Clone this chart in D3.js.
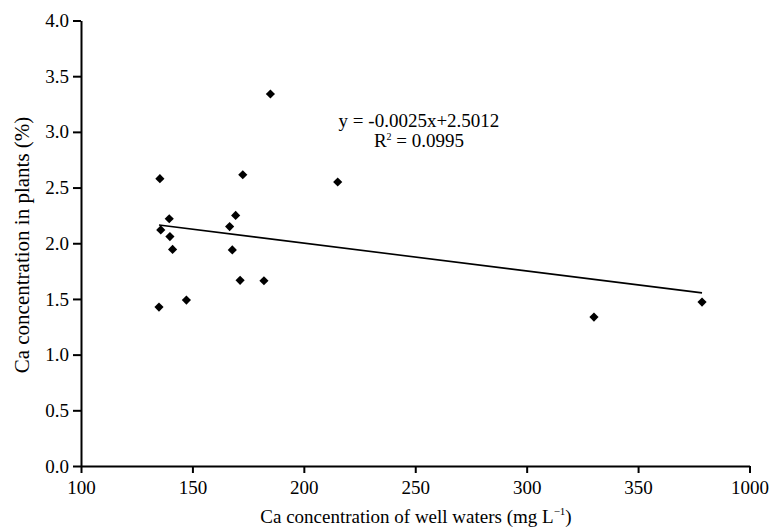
<!DOCTYPE html>
<html>
<head>
<meta charset="utf-8">
<script src="https://cdn.jsdelivr.net/npm/d3@7"></script>
<style>
  html, body { margin: 0; padding: 0; background: #fff; }
  svg { display: block; font-family: "Liberation Serif", "Times New Roman", serif; }
</style>
</head>
<body>
<svg id="chart" width="779" height="529"></svg>
<script>
// Ca in well waters (axis units) vs. Ca in plants (%)
const waterCa = [185.0, 135.4, 172.6, 215.2, 139.6, 169.4, 166.7, 135.8, 139.9, 141.1, 167.9, 171.4, 182.1, 147.3, 135.0, 330.2, 378.7];
const plantCa = [3.34, 2.58, 2.615, 2.55, 2.22, 2.25, 2.15, 2.12, 2.06, 1.945, 1.94, 1.667, 1.663, 1.49, 1.427, 1.337, 1.472];

const xTickValues = [100, 150, 200, 250, 300, 350, 400];
const xTickLabels = ["100", "150", "200", "250", "300", "350", "1000"];
const yTickValues = [0, 0.5, 1, 1.5, 2, 2.5, 3, 3.5, 4];

// linear trend fitted to the points
const slope = -0.0025, intercept = 2.5012, rSquared = 0.0995;

const svg = d3.select("#chart");

const x = d3.scaleLinear().domain([100, 400]).range([81, 749.5]);
const y = d3.scaleLinear().domain([0, 4]).range([466, 20.5]);

const fontSize = 19;

// x axis
const xAxis = svg.append("g")
  .attr("transform", `translate(0,${y(0)})`)
  .call(d3.axisBottom(x)
    .tickValues(xTickValues)
    .tickFormat((d, i) => xTickLabels[i])
    .tickSize(7)
    .tickSizeOuter(0)
    .tickPadding(8));

// y axis
const yAxis = svg.append("g")
  .attr("transform", `translate(${x(100)},0)`)
  .call(d3.axisLeft(y)
    .tickValues(yTickValues)
    .tickFormat(d3.format(".1f"))
    .tickSize(8)
    .tickSizeOuter(0)
    .tickPadding(4));

[xAxis, yAxis].forEach(g => {
  g.attr("font-family", null).attr("font-size", null);
  g.select(".domain").attr("stroke", "#000").attr("stroke-width", 2);
  g.selectAll(".tick line").attr("stroke", "#000").attr("stroke-width", 2);
  g.selectAll(".tick text")
    .attr("fill", "#000")
    .style("font-size", fontSize + "px");
});

// trend line across the observed range
const xExtent = d3.extent(waterCa);
svg.append("line")
  .attr("x1", x(xExtent[0]))
  .attr("y1", y(slope * xExtent[0] + intercept))
  .attr("x2", x(xExtent[1]))
  .attr("y2", y(slope * xExtent[1] + intercept))
  .attr("stroke", "#000")
  .attr("stroke-width", 1.6);

// diamond markers
const diamond = d3.symbol().type(d3.symbolSquare).size(42);
svg.append("g")
  .selectAll("path")
  .data(waterCa.map((w, i) => [w, plantCa[i]]))
  .join("path")
  .attr("d", diamond)
  .attr("transform", d => `translate(${x(d[0])},${y(d[1])}) rotate(45)`)
  .attr("fill", "#000");

// regression label
const eq = svg.append("text")
  .attr("text-anchor", "middle")
  .style("font-size", fontSize + "px")
  .attr("fill", "#000");
eq.append("tspan")
  .attr("x", 419).attr("y", 127)
  .text(`y = -${Math.abs(slope).toFixed(4)}x+${intercept.toFixed(4)}`);
const r2 = eq.append("tspan").attr("x", 419).attr("y", 147);
r2.append("tspan").text("R");
r2.append("tspan").attr("dy", -7).style("font-size", "10px").text("2");
r2.append("tspan").attr("dy", 7).text(` = ${rSquared.toFixed(4)}`);

// axis titles
const xTitle = svg.append("text")
  .attr("x", 416).attr("y", 523)
  .attr("text-anchor", "middle")
  .style("font-size", fontSize + "px")
  .attr("fill", "#000");
xTitle.append("tspan").text("Ca concentration of well waters (mg L");
xTitle.append("tspan").attr("dy", -8).style("font-size", "11px").text("\u22121");
xTitle.append("tspan").attr("dy", 8).text(")");

svg.append("text")
  .attr("transform", "translate(29,245) rotate(-90)")
  .attr("text-anchor", "middle")
  .style("font-size", "21px")
  .attr("fill", "#000")
  .text("Ca concentration in plants (%)");
</script>
</body>
</html>
